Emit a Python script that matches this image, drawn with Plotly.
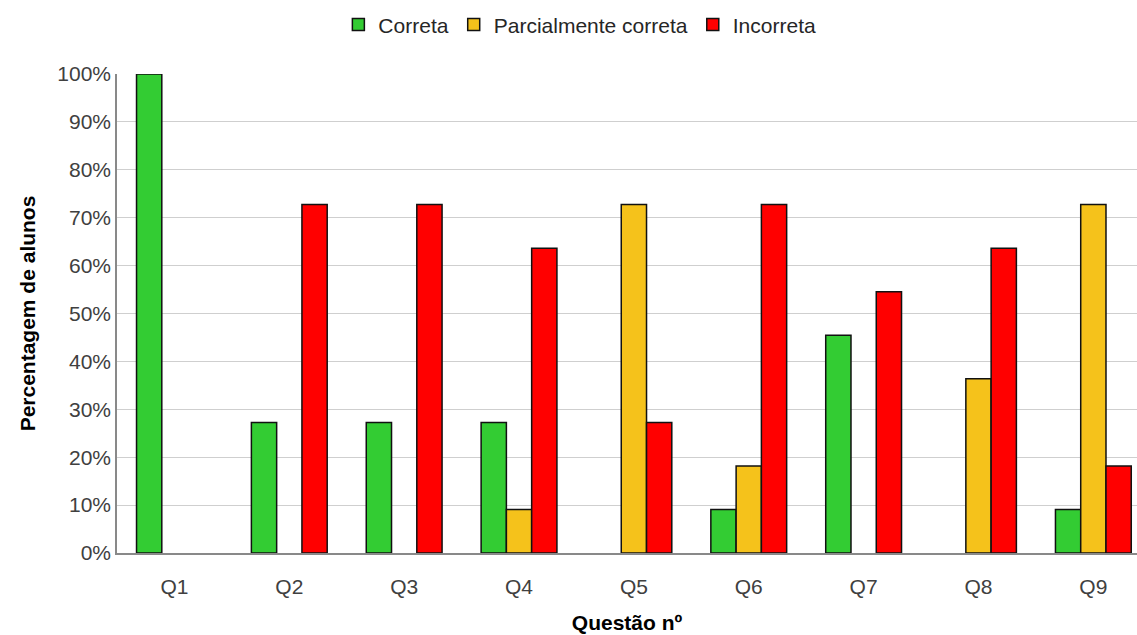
import plotly.graph_objects as go

questions = ["Q1", "Q2", "Q3", "Q4", "Q5", "Q6", "Q7", "Q8", "Q9"]
correta = [100.0, 27.27, 27.27, 27.27, 0.0, 9.09, 45.45, 0.0, 9.09]
parcial = [0.0, 0.0, 0.0, 9.09, 72.73, 18.18, 0.0, 36.36, 72.73]
incorreta = [0.0, 72.73, 72.73, 63.64, 27.27, 72.73, 54.55, 63.64, 18.18]
y_ticks = [0, 10, 20, 30, 40, 50, 60, 70, 80, 90, 100]
y_labels = [f"{v}%" for v in y_ticks]

FONT = "Liberation Sans Narrow, Arial Narrow, Liberation Sans, sans-serif"

fig = go.Figure()
for name, vals, color in [
    ("Correta", correta, "#33CC33"),
    ("Parcialmente correta", parcial, "#F5C21B"),
    ("Incorreta", incorreta, "#FF0000"),
]:
    fig.add_trace(go.Bar(
        x=list(range(len(questions))),
        y=[v if v > 0 else None for v in vals],
        name=name,
        marker=dict(color=color, line=dict(color="#111111", width=1.5)),
    ))

fig.update_layout(
    width=1137, height=635,
    barmode="group", bargap=0.34, bargroupgap=0,
    plot_bgcolor="white", paper_bgcolor="white",
    margin=dict(l=117, r=0, t=74, b=82),
    font=dict(family=FONT, size=21, color="#404040"),
    legend=dict(orientation="h", x=0.51, xref="container", xanchor="center",
                y=0.993, yref="container", yanchor="top",
                font=dict(size=21, color="#262626"),
                traceorder="normal", itemwidth=30),
    xaxis=dict(
        range=[-0.5, 8.38], tickmode="array",
        tickvals=list(range(len(questions))), ticktext=questions,
        showline=True, linecolor="#898989", linewidth=1.5,
        showgrid=False, ticks="", ticklabelstandoff=14,
        title=dict(text="<b>Questão nº</b>", font=dict(size=21, color="#000000"), standoff=18),
    ),
    yaxis=dict(
        range=[0, 100], tickmode="array", tickvals=y_ticks, ticktext=y_labels,
        showline=True, linecolor="#898989", linewidth=1.5,
        showgrid=True, gridcolor="#CFCFCF", gridwidth=1.2,
        ticks="", zeroline=False,
        title=dict(text="<b>Percentagem de alunos</b>", font=dict(size=21, color="#000000"), standoff=16),
    ),
)

fig.write_html("out.html")
